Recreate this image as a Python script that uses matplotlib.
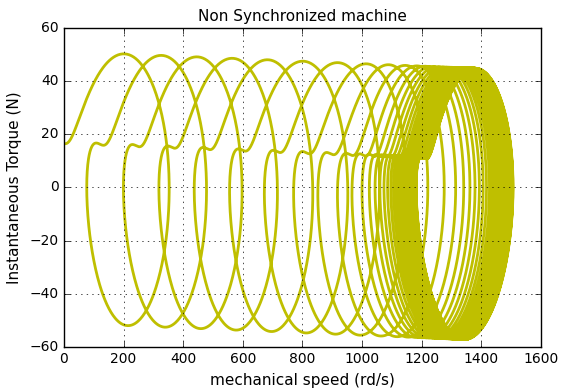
import numpy as np
import matplotlib
matplotlib.use('Agg')
import matplotlib.pyplot as plt

# machine parameters
inertia = 0.002          # kg.m2
w_beat = 132.0           # load angle beat pulsation (rad/s)
k_damp = 0.0046          # damper torque slope, N per rd/s
w_end = 1328.0           # speed where damper torque vanishes (rd/s)
k_aux = 0.0046           # auxiliary shaft torque slope, N per rd/s
w_aux_on = 245.0         # auxiliary torque starts here (rd/s)
w_aux_off = 990.0        # ... and drops out around here (rd/s)
aux_edge = 25.0
theta0 = 1.1             # initial load angle (rad)

# synchronous torque harmonics versus load angle
harm_order = [1, 2, 3]
harm_sin = [32.65, 6.2, 2.4]
harm_cos = [-26.06, 16.1, 2.1]

t_end = 2.1
dt = 1e-4

x_ticks = [0, 200, 400, 600, 800, 1000, 1200, 1400, 1600]
y_ticks = [-60, -40, -20, 0, 20, 40, 60]


def em_torque(theta, w):
    t = k_damp * (w_end - w)
    for n, a, b in zip(harm_order, harm_sin, harm_cos):
        t += a * np.sin(n * theta) + b * np.cos(n * theta)
    return t


def aux_torque(w):
    ramp = k_aux * max(w - w_aux_on, 0.0)
    return ramp / (1.0 + np.exp((w - w_aux_off) / aux_edge))


def accel(t, w):
    theta = theta0 + w_beat * t
    return (em_torque(theta, w) + aux_torque(w)) / inertia


n_steps = int(t_end / dt)
time = np.arange(n_steps + 1) * dt
speed = np.empty(n_steps + 1)
speed[0] = 0.0
w = 0.0
for i in range(n_steps):
    t = time[i]
    k1 = accel(t, w)
    k2 = accel(t + 0.5 * dt, w + 0.5 * dt * k1)
    k3 = accel(t + 0.5 * dt, w + 0.5 * dt * k2)
    k4 = accel(t + dt, w + dt * k3)
    w = w + dt / 6.0 * (k1 + 2 * k2 + 2 * k3 + k4)
    speed[i + 1] = w
tq = em_torque(theta0 + w_beat * time, speed)

plt.style.use('classic')
fig = plt.figure(figsize=(5.61, 3.92), dpi=100)
ax = fig.add_axes([0.114, 0.115, 0.85, 0.814])
ax.plot(speed, tq, color='y', lw=2)
ax.set_xlim(0, 1600)
ax.set_ylim(-60, 60)
ax.set_xticks(x_ticks)
ax.set_yticks(y_ticks)
ax.tick_params(labelsize=10)
ax.grid(True)
ax.set_xlabel('mechanical speed (rd/s)', fontsize=11)
ax.set_ylabel('Instantaneous Torque (N)', fontsize=11)
ax.set_title('Non Synchronized machine', fontsize=11)
fig.savefig('out.png', dpi=100)
